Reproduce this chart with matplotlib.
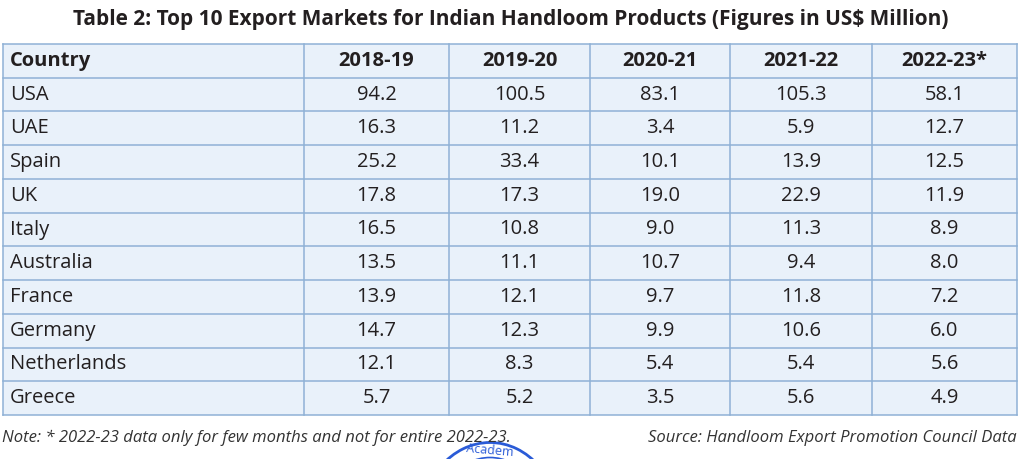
import matplotlib.pyplot as plt
from matplotlib.patches import Rectangle, Arc

plt.rcParams["font.family"] = ["Open Sans", "DejaVu Sans"]

# table data (US$ million)
years = ["2018-19", "2019-20", "2020-21", "2021-22", "2022-23*"]
countries = ["USA", "UAE", "Spain", "UK", "Italy", "Australia",
             "France", "Germany", "Netherlands", "Greece"]
v_2018_19 = [94.2, 16.3, 25.2, 17.8, 16.5, 13.5, 13.9, 14.7, 12.1, 5.7]
v_2019_20 = [100.5, 11.2, 33.4, 17.3, 10.8, 11.1, 12.1, 12.3, 8.3, 5.2]
v_2020_21 = [83.1, 3.4, 10.1, 19.0, 9.0, 10.7, 9.7, 9.9, 5.4, 3.5]
v_2021_22 = [105.3, 5.9, 13.9, 22.9, 11.3, 9.4, 11.8, 10.6, 5.4, 5.6]
v_2022_23 = [58.1, 12.7, 12.5, 11.9, 8.9, 8.0, 7.2, 6.0, 5.6, 4.9]
columns = [v_2018_19, v_2019_20, v_2020_21, v_2021_22, v_2022_23]

title = "Table 2: Top 10 Export Markets for Indian Handloom Products (Figures in US$ Million)"
note = "Note: * 2022-23 data only for few months and not for entire 2022-23."
source = "Source: Handloom Export Promotion Council Data"

# layout in pixels
col_edges = [3, 304, 449, 590, 730, 872, 1017]
top, bottom = 44, 415
n_rows = len(countries) + 1
row_h = (bottom - top) / n_rows
bg = "#e9f1fa"
line = "#8fb1d6"
ink = "#231f20"
fs = 14.5

fig = plt.figure(figsize=(10.24, 4.59), dpi=100)
ax = fig.add_axes([0, 0, 1, 1])
ax.set_xlim(0, 1024)
ax.set_ylim(459, 0)
ax.axis("off")

ax.add_patch(Rectangle((col_edges[0], top), col_edges[-1] - col_edges[0],
                       bottom - top, facecolor=bg, edgecolor="none"))
for x in col_edges:
    ax.plot([x, x], [top, bottom], color=line, lw=1.1)
for i in range(n_rows + 1):
    y = top + i * row_h
    ax.plot([col_edges[0], col_edges[-1]], [y, y], color=line, lw=1.1)

ax.text(511, 19, title, ha="center", va="center", fontsize=15,
        fontweight="bold", color=ink)

# header
yc = top + row_h / 2
ax.text(col_edges[0] + 7, yc, "Country", ha="left", va="center",
        fontsize=fs, fontweight="bold", color=ink)
for j, yr in enumerate(years):
    xc = (col_edges[j + 1] + col_edges[j + 2]) / 2
    ax.text(xc, yc, yr, ha="center", va="center", fontsize=fs,
            fontweight="bold", color=ink)

# body
for i, c in enumerate(countries):
    yc = top + (i + 1.5) * row_h
    ax.text(col_edges[0] + 7, yc, c, ha="left", va="center",
            fontsize=fs, color=ink)
    for j, vals in enumerate(columns):
        xc = (col_edges[j + 1] + col_edges[j + 2]) / 2
        ax.text(xc, yc, f"{vals[i]:.1f}", ha="center", va="center",
                fontsize=fs, color=ink)

ax.text(2, 438, note, ha="left", va="center", fontsize=12,
        style="italic", color="#333333")
ax.text(1017, 438, source, ha="right", va="center", fontsize=12,
        style="italic", color="#333333")

# stamp fragment at the bottom
ax.add_patch(Arc((490, 525), 140, 165, theta1=0, theta2=360,
                 color="#2a5bd7", lw=2))
ax.add_patch(Arc((490, 525), 112, 135, theta1=0, theta2=360,
                 color="#2a5bd7", lw=1.2))
ax.text(490, 451, "Academ", ha="center", va="center", fontsize=9,
        color="#2a5bd7", rotation=-5)

fig.savefig("out.png", dpi=100)
